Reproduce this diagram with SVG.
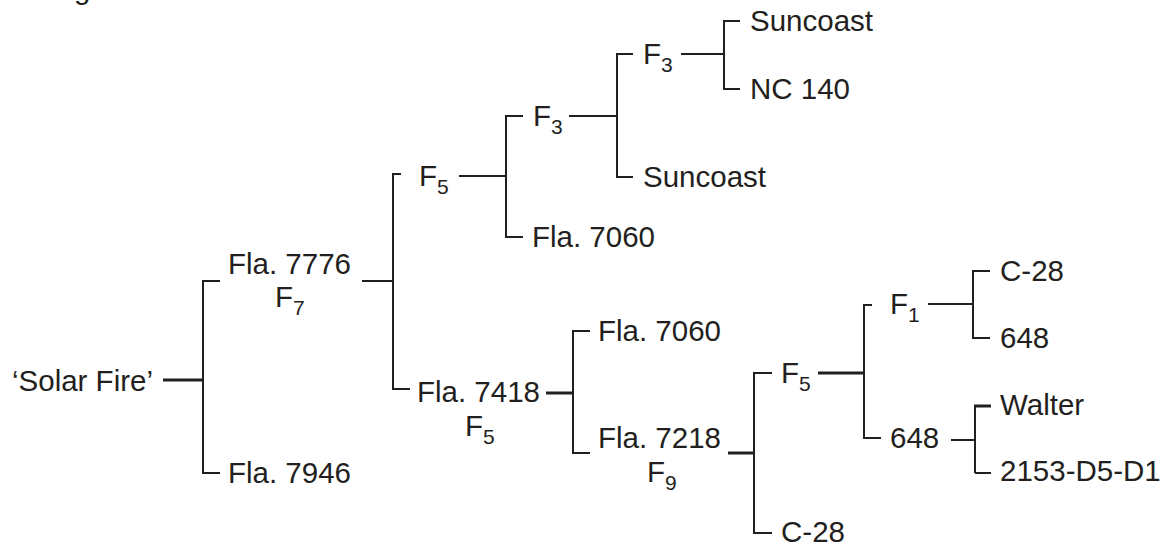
<svg xmlns="http://www.w3.org/2000/svg" width="1167" height="546" viewBox="0 0 1167 546">
<style>
text{font-family:"Liberation Sans",Arial,sans-serif;font-size:29.5px;fill:#231f20}
.sub{font-size:21px}
.c path{fill:none;stroke:#231f20;stroke-width:2;stroke-linecap:butt;stroke-linejoin:miter}
.c path.b{stroke-width:3}
</style>
<rect width="1167" height="546" fill="#fff"/>
<text x="74" y="-1">g</text>
<g class="c" id="connectors">
<path class="b" d="M163 380H203"/>
<path d="M220 281H203V473H220"/>
<path d="M362 281H393"/>
<path d="M401 174H393V389H410"/>
<path d="M459 176H506"/>
<path d="M523 116H506V237H523"/>
<path d="M569 116H617"/>
<path d="M633 54H617V177H633"/>
<path d="M681 54H724"/>
<path d="M740 21H724V89H740"/>
<path class="b" d="M546 393H573"/>
<path d="M590 331H573V453H590"/>
<path class="b" d="M728 453H754"/>
<path d="M772 373H754V533H772"/>
<path class="b" d="M818 373H864"/>
<path d="M872 305H864V438H881"/>
<path d="M928 304H973"/>
<path d="M990 271H973V338H990"/>
<path d="M951 440H975"/>
<path d="M975 473V406"/>
<path d="M975 473H991"/>
<path class="b" d="M974 406H991"/>
</g>
<g id="n-solarfire"><text x="12" y="391">‘Solar Fire’</text></g>
<g id="n-fla7776"><text x="228" y="274">Fla. 7776</text><text x="275" y="307">F<tspan class="sub" dy="8">7</tspan></text></g>
<g id="n-fla7946"><text x="228" y="483">Fla. 7946</text></g>
<g id="n-f5a"><text x="419" y="186">F<tspan class="sub" dy="8">5</tspan></text></g>
<g id="n-f3a"><text x="533" y="126">F<tspan class="sub" dy="8">3</tspan></text></g>
<g id="n-fla7060a"><text x="532" y="247">Fla. 7060</text></g>
<g id="n-f3b"><text x="643" y="64">F<tspan class="sub" dy="8">3</tspan></text></g>
<g id="n-suncoast1"><text x="750" y="31">Suncoast</text></g>
<g id="n-nc140"><text x="750" y="99">NC 140</text></g>
<g id="n-suncoast2"><text x="643" y="187">Suncoast</text></g>
<g id="n-fla7418"><text x="417" y="402">Fla. 7418</text><text x="465" y="436">F<tspan class="sub" dy="8">5</tspan></text></g>
<g id="n-fla7060b"><text x="598" y="341">Fla. 7060</text></g>
<g id="n-fla7218"><text x="598" y="448">Fla. 7218</text><text x="647" y="482">F<tspan class="sub" dy="8">9</tspan></text></g>
<g id="n-f5b"><text x="781" y="383">F<tspan class="sub" dy="8">5</tspan></text></g>
<g id="n-c28a"><text x="781" y="542">C-28</text></g>
<g id="n-f1"><text x="890" y="314">F<tspan class="sub" dy="8">1</tspan></text></g>
<g id="n-648a"><text x="890" y="448">648</text></g>
<g id="n-c28b"><text x="1000" y="281">C-28</text></g>
<g id="n-648b"><text x="1000" y="348">648</text></g>
<g id="n-walter"><text x="1000" y="415">Walter</text></g>
<g id="n-2153"><text x="1000" y="481">2153-D5-D1</text></g>
</svg>
